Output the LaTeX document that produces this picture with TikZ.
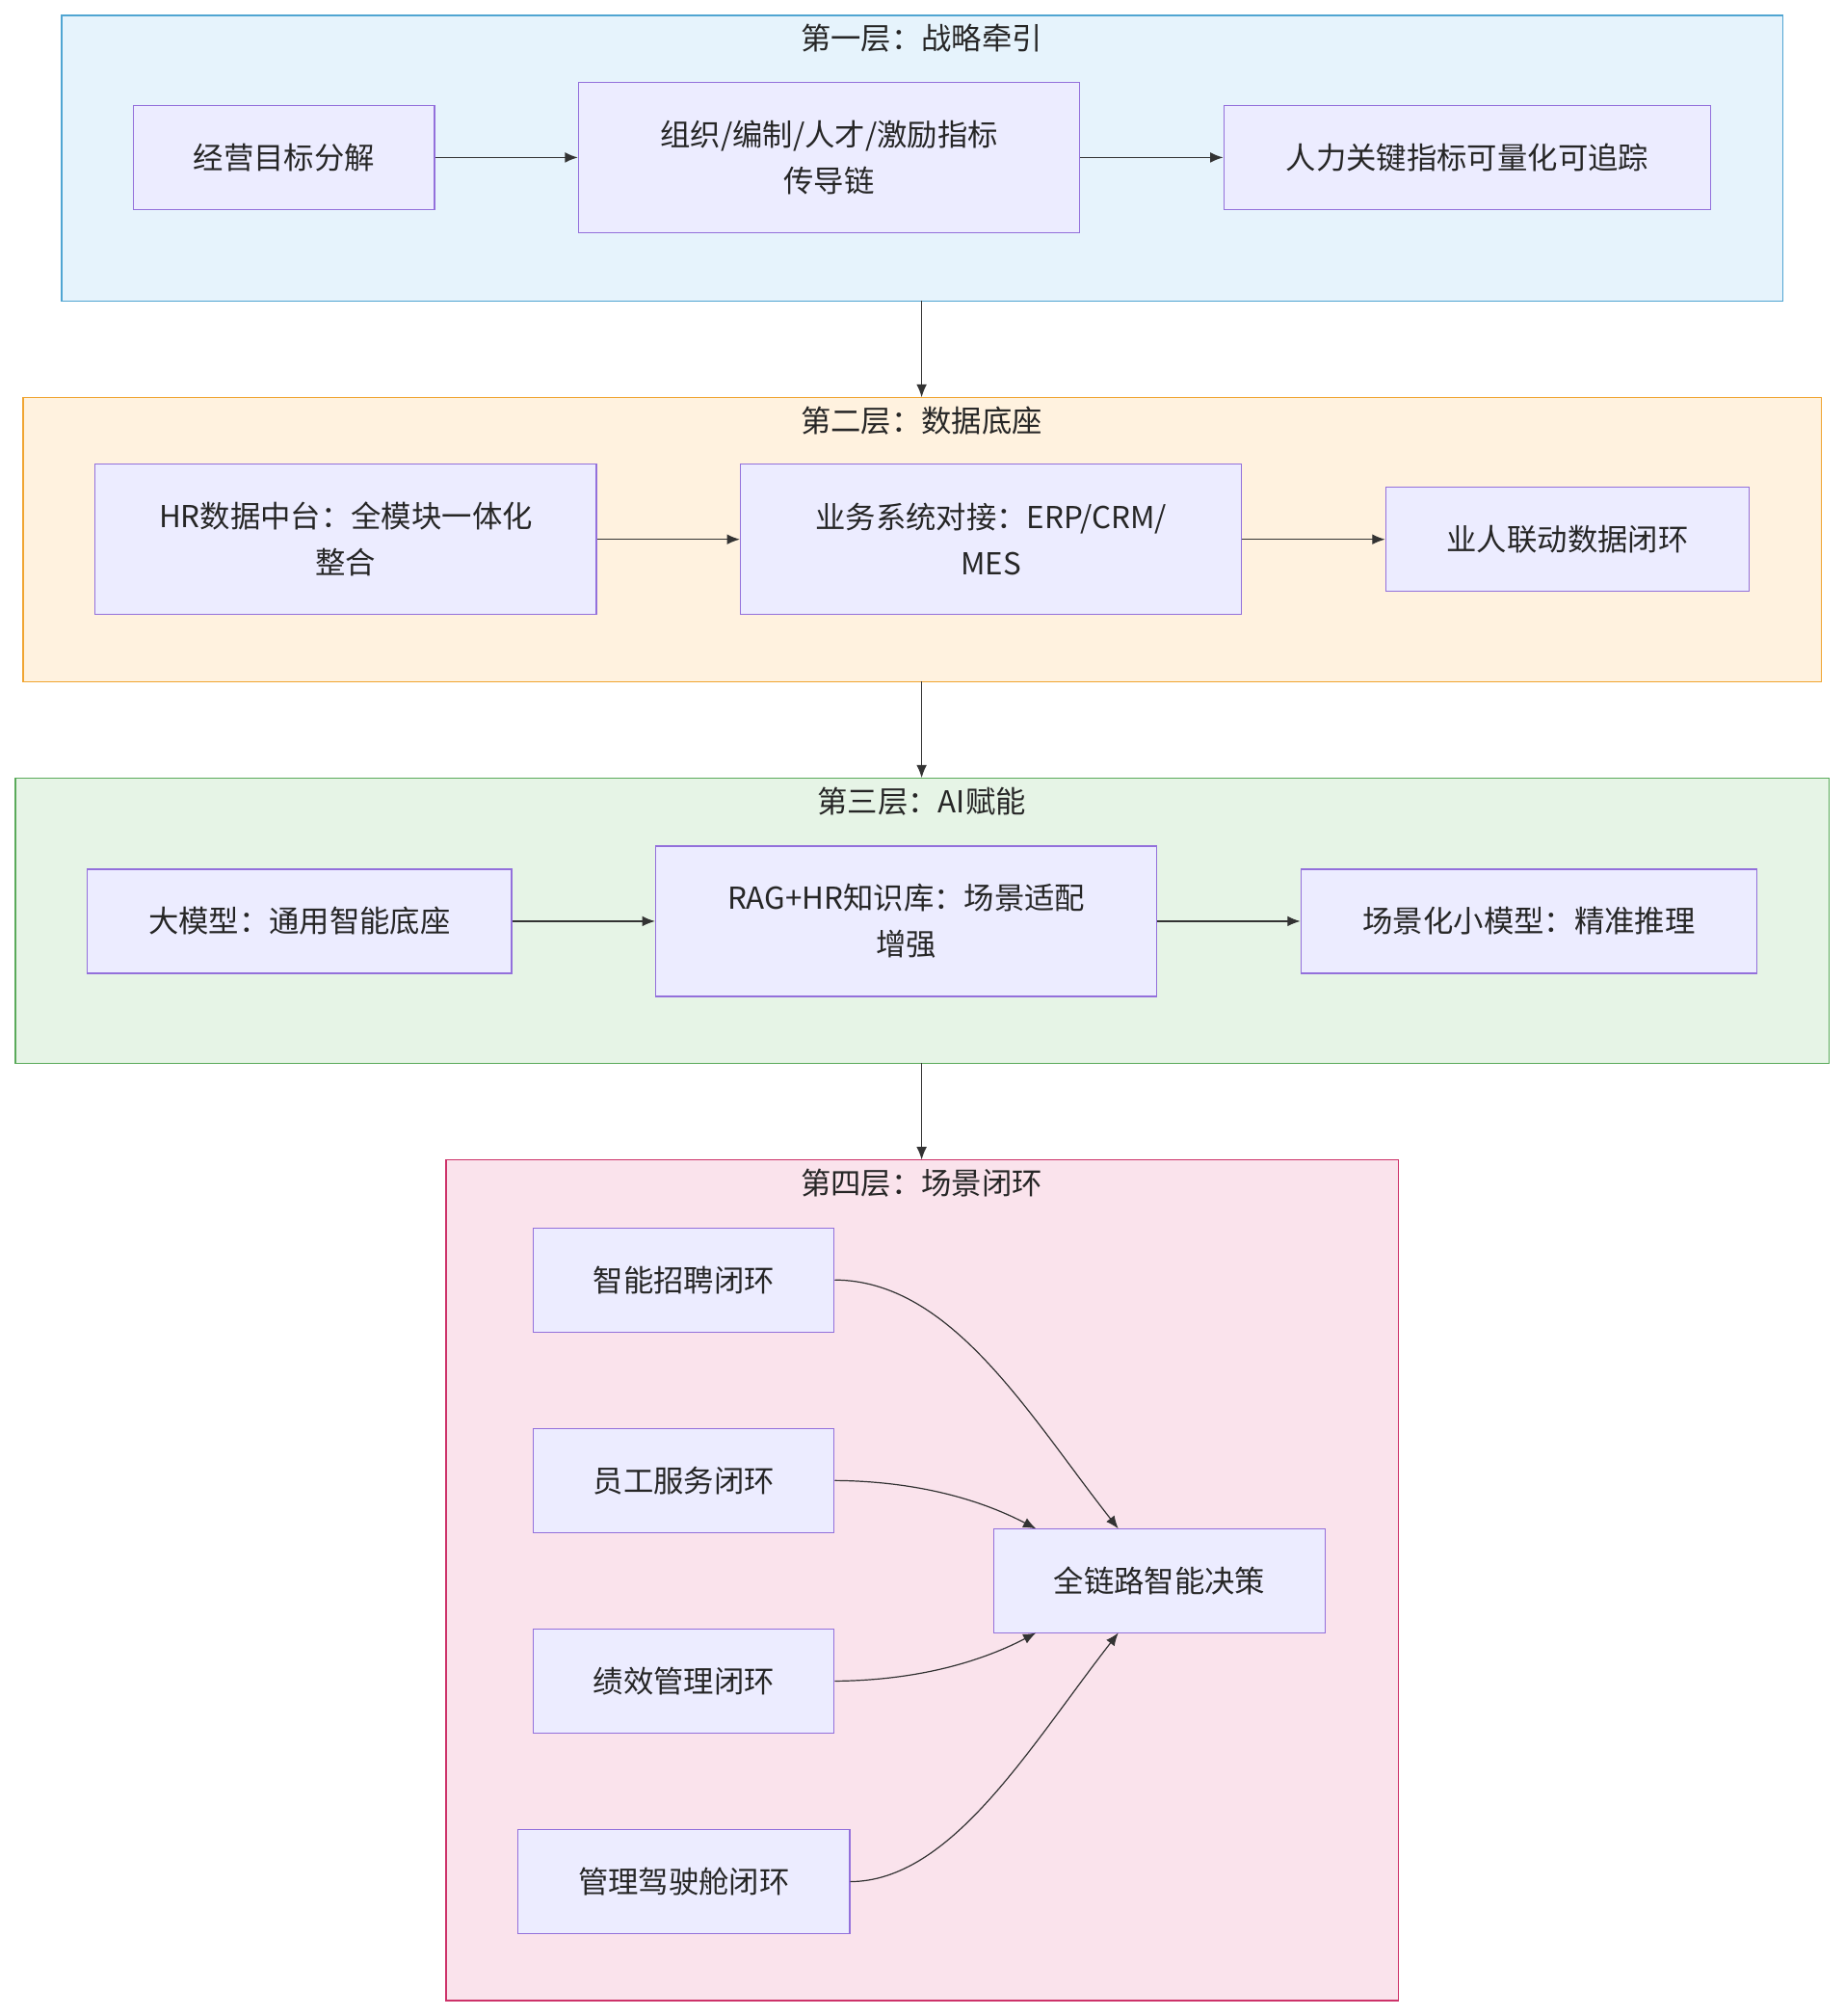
\documentclass[tikz,border=0pt]{standalone}
\usepackage{fontspec}
\setmainfont{Noto Sans CJK SC}
\usetikzlibrary{arrows.meta}
\definecolor{nfill}{HTML}{ECECFF}
\definecolor{nline}{HTML}{9370DB}
\tikzset{x=1pt,y=-1pt,
 box/.style={draw=nline,fill=nfill,line width=0.9pt,align=center,inner sep=0pt,font=\fontsize{23.5}{36}\selectfont,text=black!85},
 layer/.style={line width=0.9pt},
 ttl/.style={font=\fontsize{23.5}{28}\selectfont,text=black!85},
 arr/.style={-{Latex[length=10pt,width=8pt]},line width=0.9pt,draw=black!80}}
\newcommand{\bx}[6]{\node[box,minimum width={#4-#2},minimum height={#5-#3}] (#1) at ({(#2+#4)/2},{(#3+#5)/2}) {#6};}
\begin{document}
\begin{tikzpicture}
\useasboundingbox (0,0) rectangle (1435,1568);
\fill[white] (0,0) rectangle (1435,1568);
% layers
\draw[layer,fill={rgb,255:red,230;green,243;blue,252},draw={rgb,255:red,80;green,165;blue,210}] (48,12) rectangle (1387,234);
\draw[layer,fill={rgb,255:red,255;green,242;blue,223},draw={rgb,255:red,240;green,165;blue,50}] (18,309) rectangle (1417,530);
\draw[layer,fill={rgb,255:red,230;green,244;blue,230},draw={rgb,255:red,90;green,170;blue,90}] (12,605) rectangle (1423,827);
\draw[layer,fill={rgb,255:red,250;green,227;blue,236},draw={rgb,255:red,205;green,50;blue,105}] (347,902) rectangle (1088,1556);
\coordinate (l1b) at (717,234); \coordinate (l2t) at (717,309);
\coordinate (l2b) at (717,530); \coordinate (l3t) at (717,605);
\coordinate (l3b) at (717,827); \coordinate (l4t) at (717,902);
\node[ttl] (t1) at (717,30) {第一层：战略牵引};
\node[ttl] (t2) at (717,327) {第二层：数据底座};
\node[ttl] (t3) at (717,623) {第三层：AI赋能};
\node[ttl] (t4) at (717,920) {第四层：场景闭环};
% nodes
\bx{n11}{104}{82}{338}{163}{经营目标分解}
\bx{n12}{450}{64}{840}{181}{组织/编制/人才/激励指标\\传导链}
\bx{n13}{952}{82}{1331}{163}{人力关键指标可量化可追踪}
\bx{n21}{74}{361}{464}{478}{HR数据中台：全模块一体化\\整合}
\bx{n22}{576}{361}{966}{478}{业务系统对接：ERP/CRM/\\MES}
\bx{n23}{1078}{379}{1361}{460}{业人联动数据闭环}
\bx{n31}{68}{676}{398}{757}{大模型：通用智能底座}
\bx{n32}{510}{658}{900}{775}{RAG+HR知识库：场景适配\\增强}
\bx{n33}{1012}{676}{1367}{757}{场景化小模型：精准推理}
\bx{n41}{415}{955}{649}{1036}{智能招聘闭环}
\bx{n42}{415}{1111}{649}{1192}{员工服务闭环}
\bx{n43}{415}{1267}{649}{1348}{绩效管理闭环}
\bx{n44}{403}{1423}{661}{1504}{管理驾驶舱闭环}
\bx{n45}{773}{1189}{1031}{1270}{全链路智能决策}
% arrows
\draw[arr] (n11) -- (n12); \draw[arr] (n12) -- (n13);
\draw[arr] (n21) -- (n22); \draw[arr] (n22) -- (n23);
\draw[arr] (n31) -- (n32); \draw[arr] (n32) -- (n33);
\draw[arr] (l1b) -- (l2t); \draw[arr] (l2b) -- (l3t); \draw[arr] (l3b) -- (l4t);
\coordinate (e1) at (870,1189); \coordinate (e2) at (806,1189);
\coordinate (e3) at (806,1270); \coordinate (e4) at (870,1270);
\draw[arr] (n41.east) .. controls (740,996) and (800,1100) .. (e1);
\draw[arr] (n42.east) .. controls (710,1152) and (760,1165) .. (e2);
\draw[arr] (n43.east) .. controls (710,1307) and (760,1294) .. (e3);
\draw[arr] (n44.east) .. controls (740,1463) and (800,1360) .. (e4);
\end{tikzpicture}
\end{document}
